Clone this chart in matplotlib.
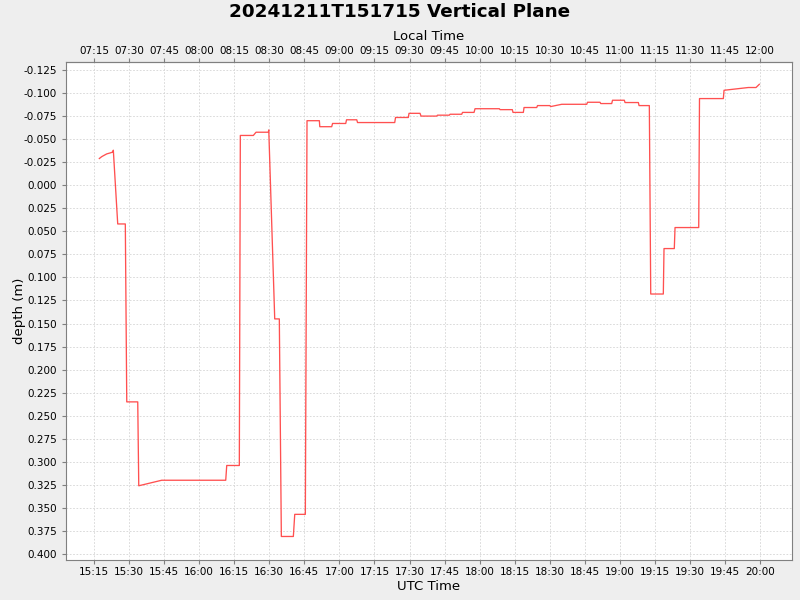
import matplotlib
matplotlib.use("Agg")
import matplotlib.pyplot as plt
import matplotlib.dates as mdates
import matplotlib.ticker as mticker
import pandas as pd

# sample times (UTC, 2024-12-11) and depth readings (m)
times = [
    "15:17:16", "15:18:17", "15:18:59", "15:20:26", "15:21:51", "15:23:00", "15:23:15",
    "15:25:08", "15:28:23", "15:29:00", "15:33:42", "15:34:08", "15:43:58", "16:11:21",
    "16:11:47", "16:17:10", "16:17:36", "16:23:10", "16:24:19", "16:29:35", "16:29:46",
    "16:32:19", "16:34:17", "16:35:09", "16:40:17", "16:40:53", "16:45:25", "16:46:08",
    "16:51:25", "16:51:36", "16:56:42", "16:57:04", "17:02:42", "17:03:03", "17:07:25",
    "17:07:45", "17:23:40", "17:24:01", "17:29:29", "17:29:47", "17:34:30", "17:34:55",
    "17:41:38", "17:41:58", "17:47:02", "17:47:20", "17:52:20", "17:52:41", "17:57:36",
    "17:58:02", "18:08:26", "18:08:44", "18:13:59", "18:14:17", "18:18:42", "18:19:00",
    "18:24:26", "18:24:46", "18:30:07", "18:30:20", "18:35:08", "18:45:50", "18:46:10",
    "18:51:31", "18:51:49", "18:56:31", "18:56:52", "19:01:55", "19:02:13", "19:07:55",
    "19:08:13", "19:12:37", "19:13:13", "19:18:36", "19:18:54", "19:23:18", "19:23:37",
    "19:33:45", "19:34:05", "19:44:17", "19:44:35", "19:54:59", "19:58:16", "19:59:41",
]
depth = [
    -0.029, -0.031, -0.032, -0.034, -0.035, -0.036, -0.038,
    0.042, 0.042, 0.235, 0.235, 0.326, 0.320, 0.320,
    0.304, 0.304, -0.054, -0.054, -0.0575, -0.0575, -0.060,
    0.145, 0.145, 0.381, 0.381, 0.357, 0.357, -0.070,
    -0.070, -0.0635, -0.0635, -0.067, -0.067, -0.071, -0.071,
    -0.068, -0.068, -0.0735, -0.0735, -0.078, -0.078, -0.075,
    -0.075, -0.076, -0.076, -0.077, -0.077, -0.079, -0.079,
    -0.083, -0.083, -0.082, -0.082, -0.079, -0.079, -0.0843,
    -0.0843, -0.0864, -0.0864, -0.0853, -0.0878, -0.0878, -0.090,
    -0.090, -0.0886, -0.0886, -0.0922, -0.0922, -0.0897, -0.0897,
    -0.0864, -0.0864, 0.118, 0.118, 0.0687, 0.0687, 0.0459,
    0.0459, -0.094, -0.094, -0.103, -0.106, -0.106, -0.1095,
]

t = pd.to_datetime(["2024-12-11 " + s for s in times])

bg = "#eeeeee"
grey = "#808080"
plt.rcParams["font.family"] = "DejaVu Sans"

fig = plt.figure(figsize=(8, 6), dpi=100, facecolor=bg)
ax = fig.add_axes([0.0825, 0.0667, 0.9075, 0.83])
ax.set_facecolor("white")

ax.plot(t, depth, color="#ff5050", lw=0.95)

ax.set_xlim(pd.Timestamp("2024-12-11 15:03:00"), pd.Timestamp("2024-12-11 20:13:40"))
ax.set_ylim(0.4065, -0.1337)

ax.xaxis.set_major_locator(mdates.MinuteLocator(byminute=[0, 15, 30, 45]))
ax.xaxis.set_major_formatter(mdates.DateFormatter("%H:%M"))
ax.yaxis.set_major_locator(mticker.MultipleLocator(0.025))
ax.yaxis.set_major_formatter(mticker.FormatStrFormatter("%.3f"))

ax.grid(True, color="#d4d4d4", lw=0.6, linestyle=(0, (2, 2)))
for s in ax.spines.values():
    s.set_color(grey)
ax.tick_params(axis="both", colors=grey, labelcolor="black", labelsize=7.5, length=3)
ax.tick_params(axis="x", pad=2)

# local time is UTC-8
top = ax.secondary_xaxis("top", functions=(lambda x: x - 8 / 24, lambda x: x + 8 / 24))
top.xaxis.set_major_locator(mdates.MinuteLocator(byminute=[0, 15, 30, 45]))
top.xaxis.set_major_formatter(mdates.DateFormatter("%H:%M"))
top.tick_params(colors=grey, labelcolor="black", labelsize=7.5, length=3, pad=1.5)
top.spines["top"].set_color(grey)
top.set_xlabel("Local Time", fontsize=9.5, labelpad=4)

ax.set_xlabel("UTC Time", fontsize=9.5, labelpad=2.5)
ax.set_ylabel("depth (m)", fontsize=9.5, labelpad=-1.5)
fig.suptitle("20241211T151715 Vertical Plane", fontsize=13.2, fontweight="bold", y=0.995)

fig.savefig("out.png", dpi=100, facecolor=bg)
